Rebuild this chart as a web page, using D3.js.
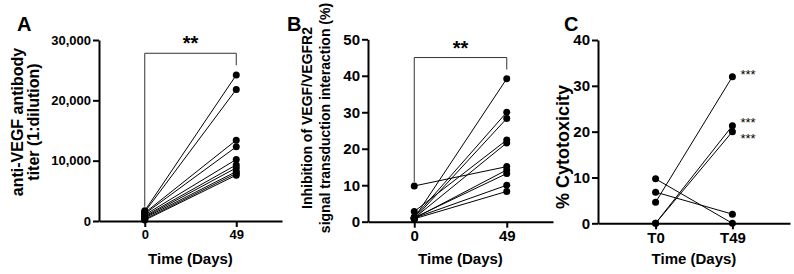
<!DOCTYPE html>
<html>
<head>
<meta charset="utf-8">
<script src="https://cdn.jsdelivr.net/npm/d3@7"></script>
<style>
body{margin:0;background:#fff;}
text{font-family:Arial,"Liberation Sans",sans-serif;fill:#000;}
</style>
</head>
<body>
<script>
// Panel A - antibody titer
var timeA = ["0", "49"];
var titerDay0 = [1700, 1500, 1350, 1200, 1000, 800, 650, 500, 300, 150];
var titerDay49 = [24200, 21800, 13400, 12300, 10200, 9300, 8800, 8200, 7900, 7600];
var titerTicks = [0, 10000, 20000, 30000];

// Panel B - inhibition
var timeB = ["0", "49"];
var inhibDay0 = [1.0, 1.2, 0.8, 2.8, 1.0, 0.9, 1.1, 9.8, 1.0, 0.8];
var inhibDay49 = [39.2, 30.0, 28.3, 22.4, 21.6, 14.2, 13.2, 15.1, 10.0, 8.3];
var inhibTicks = [0, 10, 20, 30, 40, 50];

// Panel C - cytotoxicity
var timeC = ["T0", "T49"];
var cytoT0 = [4.6, 0, 0, 9.7, 6.8];
var cytoT49 = [32, 21.3, 20, 0, 2];
var cytoTicks = [0, 10, 20, 30, 40];
var cytoStars = ["***", "***", "***", "", ""];

var svg = d3.select("body").append("svg")
	.attr("width", 794)
	.attr("height", 274);

function drawPanel(p){
	var g = svg.append("g");

	var y = d3.scaleLinear().domain([0, p.ticks[p.ticks.length-1]]).range([p.y0, p.y1]);
	var x = d3.scalePoint().domain(p.cats).range([p.x0, p.x1]).padding(p.pad);

	// y axis
	var yAxis = d3.axisLeft(y)
		.tickValues(p.ticks)
		.tickSize(6)
		.tickSizeOuter(0)
		.tickPadding(2)
		.tickFormat(d3.format(","));
	var ya = g.append("g")
		.attr("transform", "translate(" + p.x0 + ",0)")
		.call(yAxis);
	ya.selectAll("text").style("font-size", p.tickFont + "px").style("font-weight", "bold");

	// x axis
	var xAxis = d3.axisBottom(x).tickSize(6).tickSizeOuter(0).tickPadding(3);
	var xa = g.append("g")
		.attr("transform", "translate(0," + p.y0 + ")")
		.call(xAxis);
	xa.selectAll("text").style("font-size", p.tickFont + "px").style("font-weight", "bold");

	g.selectAll(".domain, .tick line").attr("stroke", "#000").attr("stroke-width", 2);

	// lines between paired points
	var pairs = p.a.map(function(v, i){ return [v, p.b[i]]; });
	g.selectAll(".pair")
		.data(pairs)
		.enter()
		.append("line")
		.attr("x1", x(p.cats[0]))
		.attr("x2", x(p.cats[1]))
		.attr("y1", function(d){ return y(d[0]); })
		.attr("y2", function(d){ return y(d[1]); })
		.attr("stroke", "#000")
		.attr("stroke-width", 1);

	g.selectAll(".d0")
		.data(p.a)
		.enter()
		.append("circle")
		.attr("cx", x(p.cats[0]))
		.attr("cy", function(d){ return y(d); })
		.attr("r", 3.5);
	g.selectAll(".d1")
		.data(p.b)
		.enter()
		.append("circle")
		.attr("cx", x(p.cats[1]))
		.attr("cy", function(d){ return y(d); })
		.attr("r", 3.5);

	// bracket with significance
	if (p.bracket){
		var bt = y(p.bracket);
		var lb = y(d3.max(p.a)) - 4;
		var rb = bt + 12;
		g.append("path")
			.attr("d", "M" + x(p.cats[0]) + "," + lb + "V" + bt + "H" + x(p.cats[1]) + "V" + rb)
			.attr("fill", "none")
			.attr("stroke", "#333")
			.attr("stroke-width", 1);
		g.append("text")
			.attr("x", (x(p.cats[0]) + x(p.cats[1])) / 2)
			.attr("y", bt - 3)
			.attr("text-anchor", "middle")
			.style("font-size", "20px")
			.style("font-weight", "bold")
			.text("**");
	}

	// per-point stars
	if (p.stars){
		g.selectAll(".star")
			.data(p.b.filter(function(d, i){ return p.stars[i]; }))
			.enter()
			.append("text")
			.attr("x", x(p.cats[1]) + 8)
			.attr("y", function(d, i){ return y(d) + p.starDy[i] + 8; })
			.style("font-size", "13px")
			.text(function(d, i){ return p.stars[i]; });
	}

	// panel letter
	g.append("text")
		.attr("x", p.letterX)
		.attr("y", 31)
		.style("font-size", "20px")
		.style("font-weight", "bold")
		.text(p.letter);

	// x title
	g.append("text")
		.attr("x", (p.x0 + p.x1) / 2)
		.attr("y", 264)
		.attr("text-anchor", "middle")
		.style("font-size", "15px")
		.style("font-weight", "bold")
		.text("Time (Days)");

	// y title (one or two lines)
	p.ylab.forEach(function(t, i){
		g.append("text")
			.attr("transform", "translate(" + (p.ylabX[i]) + "," + p.ylabY + ") rotate(-90)")
			.attr("text-anchor", "middle")
			.style("font-size", p.ylabFont + "px")
			.style("font-weight", "bold")
			.text(t);
	});
}

drawPanel({
	letter: "A", letterX: 17,
	cats: timeA, a: titerDay0, b: titerDay49, ticks: titerTicks,
	x0: 99, x1: 282, pad: 0.5, y0: 221, y1: 40, tickFont: 13,
	bracket: 27800,
	ylab: ["anti-VEGF antibody", "titer (1:dilution)"], ylabX: [23, 39], ylabY: 122, ylabFont: 16
});

drawPanel({
	letter: "B", letterX: 287,
	cats: timeB, a: inhibDay0, b: inhibDay49, ticks: inhibTicks,
	x0: 368, x1: 553, pad: 0.5, y0: 221.7, y1: 39.3, tickFont: 15,
	bracket: 45,
	ylab: ["Inhibition of VEGF/VEGFR2", "signal transduction interaction (%)"], ylabX: [312, 330], ylabY: 118, ylabFont: 14
});

drawPanel({
	letter: "C", letterX: 564,
	cats: timeC, a: cytoT0, b: cytoT49, ticks: cytoTicks,
	x0: 598, x1: 790, pad: 0.75, y0: 223.3, y1: 40, tickFont: 15,
	stars: cytoStars, starDy: [-6, -7, 3, 0, 0],
	ylab: ["% Cytotoxicity"], ylabX: [569], ylabY: 147, ylabFont: 18
});
</script>
</body>
</html>
